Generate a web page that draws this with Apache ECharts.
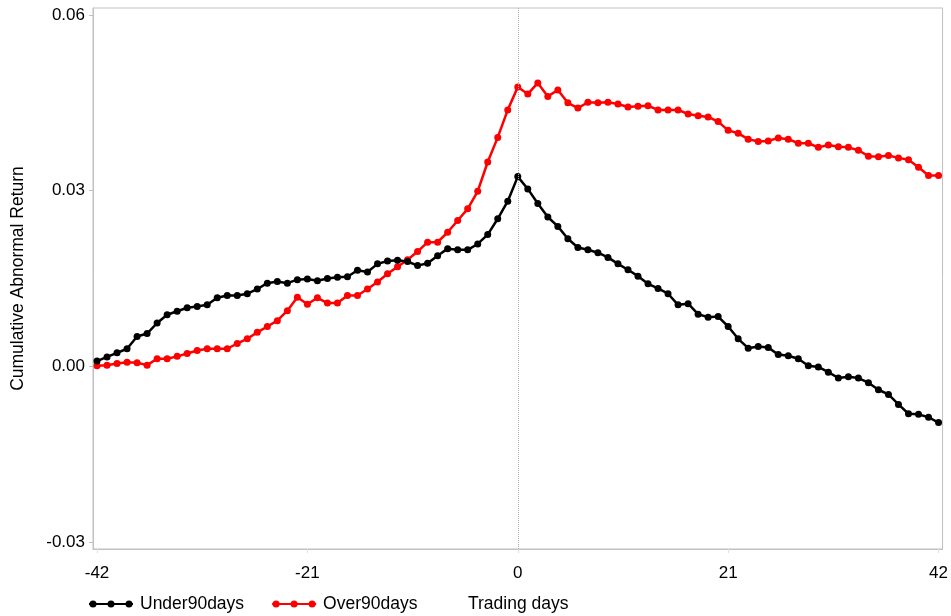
<!DOCTYPE html>
<html>
<head>
<meta charset="utf-8">
<script src="https://cdn.jsdelivr.net/npm/echarts@6/dist/echarts.min.js"></script>
<style>html,body{margin:0;padding:0;background:#fff}#c{width:951px;height:616px}</style>
</head>
<body>
<div id="c"></div>
<script>
// Trading days -42..42
const days = [];
for (let d = -42; d <= 42; d++) days.push(d);

const under90 = [
  0.0009, 0.0016, 0.0023, 0.0030, 0.0051, 0.0056, 0.0074, 0.0088, 0.0094, 0.0100,
  0.0102, 0.0105, 0.0117, 0.0121, 0.0121, 0.0124, 0.0132, 0.0142, 0.0145, 0.0142,
  0.0148, 0.0149, 0.0146, 0.0150, 0.0152, 0.0153, 0.0164, 0.0161, 0.0175, 0.0180,
  0.0181, 0.0179, 0.0172, 0.0176, 0.0189, 0.0201, 0.0199, 0.0199, 0.0209, 0.0225,
  0.0252, 0.0282, 0.0324, 0.0303, 0.0278, 0.0255, 0.0239, 0.0218, 0.0203, 0.0199,
  0.0194, 0.0186, 0.0175, 0.0165, 0.0154, 0.0141, 0.0133, 0.0124, 0.0105, 0.0107,
  0.0089, 0.0084, 0.0085, 0.0068, 0.0047, 0.0031, 0.0034, 0.0032, 0.0020, 0.0018,
  0.0013, 0.0001, -0.0001, -0.0010, -0.0020, -0.0018, -0.0020, -0.0028, -0.0040, -0.0048,
  -0.0065, -0.0081, -0.0082, -0.0087, -0.0096
];

const over90 = [
  0.0001, 0.0002, 0.0005, 0.0007, 0.0006, 0.0002, 0.0013, 0.0013, 0.0017, 0.0022,
  0.0027, 0.0030, 0.0030, 0.0030, 0.0039, 0.0047, 0.0058, 0.0068, 0.0078, 0.0095,
  0.0118, 0.0106, 0.0117, 0.0108, 0.0108, 0.0121, 0.0121, 0.0132, 0.0144, 0.0158,
  0.0170, 0.0182, 0.0196, 0.0212, 0.0212, 0.0229, 0.0249, 0.0269, 0.0299, 0.0349,
  0.0391, 0.0438, 0.0477, 0.0465, 0.0484, 0.0461, 0.0472, 0.0450, 0.0441, 0.0451,
  0.0450, 0.0451, 0.0448, 0.0443, 0.0444, 0.0445, 0.0438, 0.0438, 0.0438, 0.0431,
  0.0428, 0.0426, 0.0418, 0.0403, 0.0398, 0.0388, 0.0384, 0.0385, 0.0390, 0.0388,
  0.0381, 0.0381, 0.0374, 0.0378, 0.0375, 0.0374, 0.0369, 0.0359, 0.0358, 0.0360,
  0.0356, 0.0353, 0.0340, 0.0326, 0.0326
];

const xTicks = [-42, -21, 0, 21, 42];
const yTicks = [-0.03, 0.00, 0.03, 0.06];
const seriesNames = ['Under90days', 'Over90days'];
const xTitle = 'Trading days';
const yTitle = 'Cumulative Abnormal Return';

const legendIcon = 'path://M0,3 H44 V5 H0 Z M0.5,4 A3.5,3.5 0 1,1 7.5,4 A3.5,3.5 0 1,1 0.5,4 Z M18.5,4 A3.5,3.5 0 1,1 25.5,4 A3.5,3.5 0 1,1 18.5,4 Z M36.5,4 A3.5,3.5 0 1,1 43.5,4 A3.5,3.5 0 1,1 36.5,4 Z';

const font = 'Liberation Sans, Arial, sans-serif';
const chart = echarts.init(document.getElementById('c'), null, {renderer: 'canvas'});
chart.setOption({
  animation: false,
  backgroundColor: '#fff',
  title: {
    text: xTitle, left: 463, top: 590,
    textStyle: {fontFamily: font, fontSize: 17.5, fontWeight: 'normal', color: '#000'}
  },
  legend: {
    left: 84, top: 590, itemWidth: 44, itemHeight: 8, itemGap: 28,
    icon: legendIcon,
    textStyle: {fontFamily: font, fontSize: 17.5, color: '#000', padding: [0, 0, 0, 2]},
    data: seriesNames
  },
  grid: {
    left: 93, right: 8, top: 8, bottom: 67,
    show: true, borderColor: '#c0c0c0', borderWidth: 1, backgroundColor: 'transparent'
  },
  xAxis: {
    type: 'value', min: -42.4, max: 42.4,
    axisLine: {show: true, onZero: false, lineStyle: {color: '#c0c0c0'}},
    axisTick: {show: true, customValues: xTicks, length: 4, lineStyle: {color: '#e0e0e0'}},
    axisLabel: {customValues: xTicks, margin: 16, fontFamily: font, fontSize: 17, color: '#000'},
    splitLine: {show: false}
  },
  yAxis: {
    type: 'value', min: -0.0312, max: 0.0612,
    name: yTitle, nameLocation: 'middle', nameGap: 66, nameRotate: 90,
    nameTextStyle: {fontFamily: font, fontSize: 17.5, color: '#000'},
    axisLine: {show: true, onZero: false, lineStyle: {color: '#c0c0c0'}},
    axisTick: {show: true, customValues: yTicks, length: 4, lineStyle: {color: '#c0c0c0'}},
    axisLabel: {customValues: yTicks, margin: 8, fontFamily: font, fontSize: 17, color: '#000',
      formatter: v => v.toFixed(2)},
    splitLine: {show: false}
  },
  series: [
    {
      name: seriesNames[0], type: 'line',
      data: days.map((d, i) => [d, under90[i]]),
      symbol: 'circle', symbolSize: 7, showSymbol: true,
      itemStyle: {color: '#000'}, lineStyle: {color: '#000', width: 2.5},
      z: 3,
      markLine: {
        silent: true, symbol: 'none', label: {show: false},
        lineStyle: {type: 'dotted', color: '#aaaaaa', width: 1},
        data: [{xAxis: 0}]
      }
    },
    {
      name: seriesNames[1], type: 'line',
      data: days.map((d, i) => [d, over90[i]]),
      symbol: 'circle', symbolSize: 7, showSymbol: true,
      itemStyle: {color: '#ff0000'}, lineStyle: {color: '#ff0000', width: 2.5},
      z: 2
    }
  ]
});
</script>
</body>
</html>
